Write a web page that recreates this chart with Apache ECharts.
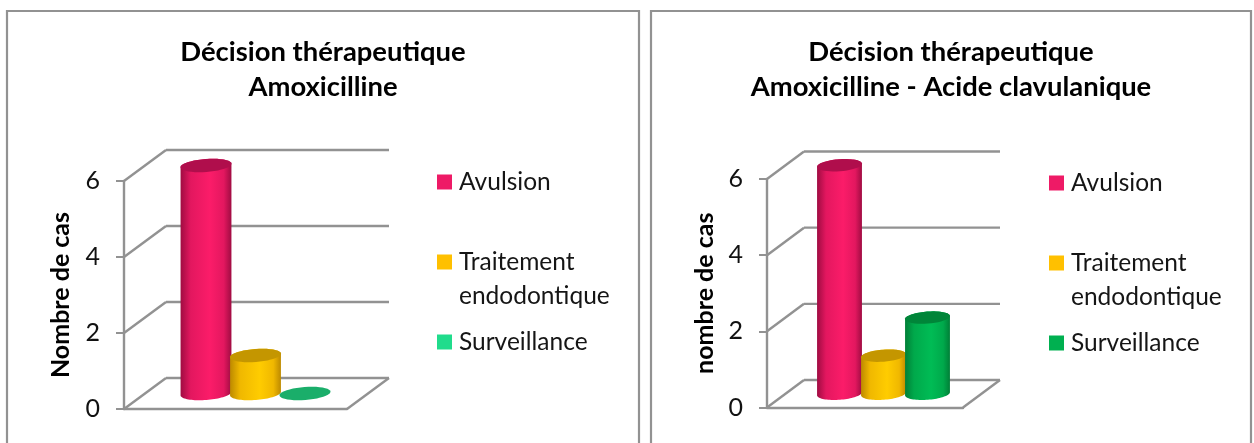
<!DOCTYPE html>
<html><head><meta charset="utf-8">
<style>html,body{margin:0;padding:0;background:#fff;overflow:hidden}#c{width:1254px;height:443px}</style>
<script src="https://cdn.jsdelivr.net/npm/echarts@6/dist/echarts.min.js"></script>
</head><body><div id="c"></div>
<script>
const seriesNames = ['Avulsion', 'Traitement\nendodontique', 'Surveillance'];
const leftValues = [6, 1, 0];
const rightValues = [6, 1, 2];
const yTicks = [0, 2, 4, 6];
const category = ['Décision thérapeutique'];
const leftTitle = 'Décision thérapeutique\nAmoxicilline';
const rightTitle = 'Décision thérapeutique\nAmoxicilline - Acide clavulanique';
const leftAxisName = 'Nombre de cas';
const rightAxisName = 'nombre de cas';
const FONT = 'Lato, Carlito, Calibri, sans-serif';
const GREY = '#929292';

const palette = [
  {edge:'#a00c42', soft:'#e3175f', mid:'#fb1c69', top:'#b00e4c', key:'#ee1a66'},
  {edge:'#bd8a00', soft:'#f0b800', mid:'#ffcc00', top:'#c49600', key:'#ffc000'},
  {edge:'#007f37', soft:'#00a94b', mid:'#00bc55', top:'#008539', key:'#00b050'}
];

function ell(cx, cy, rx, ry, t, rot) {
  return [cx + rx*Math.cos(t)*Math.cos(rot) - ry*Math.sin(t)*Math.sin(rot),
          cy + rx*Math.cos(t)*Math.sin(rot) + ry*Math.sin(t)*Math.cos(rot)];
}
function arc(cx, cy, rx, ry, a, b, rot) {
  const pts = [];
  for (let i = 0; i <= 40; i++) pts.push(ell(cx, cy, rx, ry, a + (b-a)*i/40, rot));
  return pts;
}
function cylinder(idx, depth, barW, step, ry, nudge, flatColor) {
  return function (params, api) {
    const val = api.value(1);
    const top0 = api.coord([0, val]);
    const base0 = api.coord([0, 0]);
    const cx = base0[0] + depth[0]/2 + (idx-1)*step + nudge;
    const by = base0[1] + depth[1]/2;
    const ty = top0[1] + depth[1]/2;
    const rx = barW/2, rot = -0.075;
    const c = palette[idx];
    const children = [];
    if (val > 0) {
      const pts = arc(cx, by, rx, ry, 0, Math.PI, rot).concat(arc(cx, ty, rx, ry, Math.PI, 2*Math.PI, rot));
      children.push({type:'polygon', shape:{points:pts}, style:{fill:{type:'linear',x:0,y:0,x2:1,y2:0,colorStops:[
        {offset:0,color:c.edge},{offset:0.2,color:c.soft},{offset:0.58,color:c.mid},{offset:0.85,color:c.soft},{offset:1,color:c.edge}]}}});
    }
    children.push({type:'polygon', shape:{points:arc(cx, ty, rx, ry, 0, 2*Math.PI, rot)}, style:{fill:flatColor || c.top}});
    return {type:'group', children};
  };
}
function walls(depth) {
  return function (params, api) {
    const p = api.coord([0, api.value(0)]);
    const x0 = params.coordSys.x, w = params.coordSys.width;
    const line = (x1,y1,x2,y2) => ({type:'line', shape:{x1,y1,x2,y2}, style:{stroke:GREY, lineWidth:2.4}});
    const bx = x0 + depth[0], by = p[1] + depth[1];
    const kids = [line(x0, p[1], bx, by), line(bx, by, bx + w, by)];
    if (api.value(0) === 0) kids.push(line(x0 + w, p[1], bx + w, by));
    return {type:'group', children:kids};
  };
}
function buildSeries(values, gridIdx, depth, barW, step, ry, nudge, flats) {
  const out = [{
    type:'custom', name:'_walls'+gridIdx, coordinateSystem:'cartesian2d', xAxisIndex:gridIdx, yAxisIndex:gridIdx,
    data:yTicks.map(v=>[v]), encode:{y:0}, silent:true, z:1, renderItem:walls(depth), tooltip:{show:false}
  }];
  values.forEach((v,i)=>out.push({
    type:'custom', name:seriesNames[i], coordinateSystem:'cartesian2d', xAxisIndex:gridIdx, yAxisIndex:gridIdx,
    data:[[0,v]], encode:{x:0,y:1}, z:2+i, itemStyle:{color:palette[i].key}, renderItem:cylinder(i,depth,barW,step,ry,nudge,flats&&flats[i])
  }));
  return out;
}
function legendFor(left, top, keyColors) {
  return {
    left, top, orient:'vertical', itemWidth:15, itemHeight:15, itemGap:12, icon:'rect', selectedMode:false,
    textStyle:{fontFamily:FONT, fontSize:24.5, color:'#151515', lineHeight:34, padding:[0,0,0,2]},
    formatter:n => n.indexOf('\n')>=0 ? ' \n'+n : n,
    data:seriesNames.map((n,i)=>({name:n, itemStyle:{color:keyColors[i]}}))
  };
}
function xA(g){return {type:'category',gridIndex:g,data:category,axisTick:{show:false},axisLabel:{show:false},
  axisLine:{lineStyle:{color:GREY,width:2.4}}};}
function yA(g,name,gap){return {type:'value',gridIndex:g,min:0,max:6,interval:2,name,nameLocation:'middle',nameGap:gap,
  nameTextStyle:{fontFamily:FONT,fontWeight:'bold',fontSize:25,color:'#000'},
  axisLine:{show:true,lineStyle:{color:GREY,width:2.4}},axisTick:{show:true,length:8,lineStyle:{color:GREY,width:2}},
  axisLabel:{fontFamily:FONT,fontSize:25,color:'#111',margin:24,padding:[4,0,0,0]},splitLine:{show:false}};}
function titleFor(text,x){return {text,left:x,textAlign:'center',top:30,
  textStyle:{fontFamily:FONT,fontWeight:'bold',fontSize:27.4,lineHeight:35,color:'#000'}};}
function frame(x,w){return {type:'rect',shape:{x,y:11,width:w,height:460},style:{fill:'none',stroke:GREY,lineWidth:2.2},silent:true};}

const chart = echarts.init(document.getElementById('c'),null,{renderer:'canvas'});
chart.setOption({
  animation:false,
  backgroundColor:'#fff',
  title:[titleFor(leftTitle,318),titleFor(rightTitle,946)],
  graphic:[frame(7,632),frame(651,600)],
  legend:[
    legendFor(432,160,['#ee1a66','#ffc000','#20dc8c']),
    legendFor(1044,161,['#ee1a66','#ffc000','#00b050'])
  ],
  grid:[{left:124,top:181,width:223,height:228},{left:767,top:179,width:196,height:228.5}],
  xAxis:[xA(0),xA(1)],
  yAxis:[yA(0,leftAxisName,51),yA(1,rightAxisName,50)],
  series:[
    ...buildSeries(leftValues,0,[42,-31],51,49.5,6.5,-1,[null,null,'#1aae6a']),
    ...buildSeries(rightValues,1,[37,-27.5],45,44,6,0,null)
  ]
});
</script></body></html>
